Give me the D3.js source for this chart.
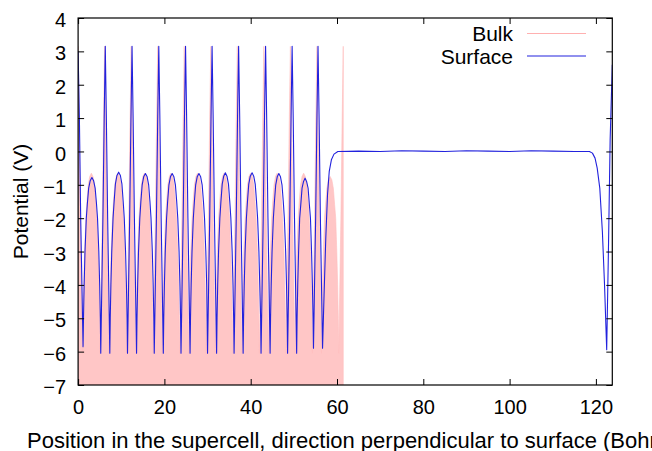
<!DOCTYPE html>
<html>
<head>
<meta charset="utf-8">
<script src="https://cdn.jsdelivr.net/npm/d3@7"></script>
<style>
  body { margin: 0; background: #fff; }
  text { font-family: "Liberation Sans", Arial, Helvetica, sans-serif; fill: #000; }
</style>
</head>
<body>
<script>
// tick values
var xTicks = [0, 20, 40, 60, 80, 100, 120];
var yTicks = [-7, -6, -5, -4, -3, -2, -1, 0, 1, 2, 3, 4];
var seriesNames = ["Bulk", "Surface"];

// Bulk potential, [position (Bohr), V]
var bulk = [
  [0,3.15],[0.25,1.0],[0.55,-2.0],[1.05,-6.05],
  [1.15,-5],[1.3,-4],[1.5,-3],[1.8,-2],[2.05,-1.5],[2.35,-1.0],[2.7,-0.75],[3.07,-0.65],[3.45,-0.75],[3.8,-1.0],[4.1,-1.5],[4.35,-2],[4.65,-3],[4.85,-4],[5.0,-5],
  [5.1,-6.05],[5.6,-2],[5.9,1],[6.15,3.15],[6.4,1],[6.7,-2],[7.2,-6.05],
  [7.3,-5],[7.45,-4],[7.65,-3],[7.95,-2],[8.2,-1.5],[8.5,-1.0],[8.85,-0.75],[9.22,-0.65],[9.6,-0.75],[9.95,-1.0],[10.25,-1.5],[10.5,-2],[10.8,-3],[11.0,-4],[11.15,-5],
  [11.25,-6.05],[11.75,-2],[12.05,1],[12.3,3.15],[12.55,1],[12.85,-2],[13.35,-6.05],
  [13.45,-5],[13.6,-4],[13.8,-3],[14.1,-2],[14.35,-1.5],[14.65,-1.0],[15.0,-0.75],[15.37,-0.65],[15.75,-0.75],[16.1,-1.0],[16.4,-1.5],[16.65,-2],[16.95,-3],[17.15,-4],[17.3,-5],
  [17.4,-6.05],[17.9,-2],[18.2,1],[18.45,3.15],[18.7,1],[19.0,-2],[19.5,-6.05],
  [19.6,-5],[19.75,-4],[19.95,-3],[20.25,-2],[20.5,-1.5],[20.8,-1.0],[21.15,-0.75],[21.52,-0.65],[21.9,-0.75],[22.25,-1.0],[22.55,-1.5],[22.8,-2],[23.1,-3],[23.3,-4],[23.45,-5],
  [23.55,-6.05],[24.05,-2],[24.35,1],[24.6,3.15],[24.85,1],[25.15,-2],[25.65,-6.05],
  [25.75,-5],[25.9,-4],[26.1,-3],[26.4,-2],[26.65,-1.5],[26.95,-1.0],[27.3,-0.75],[27.67,-0.65],[28.05,-0.75],[28.4,-1.0],[28.7,-1.5],[28.95,-2],[29.25,-3],[29.45,-4],[29.6,-5],
  [29.7,-6.05],[30.2,-2],[30.5,1],[30.75,3.15],[31.0,1],[31.3,-2],[31.8,-6.05],
  [31.9,-5],[32.05,-4],[32.25,-3],[32.55,-2],[32.8,-1.5],[33.1,-1.0],[33.45,-0.75],[33.82,-0.65],[34.2,-0.75],[34.55,-1.0],[34.85,-1.5],[35.1,-2],[35.4,-3],[35.6,-4],[35.75,-5],
  [35.85,-6.05],[36.35,-2],[36.65,1],[36.9,3.15],[37.15,1],[37.45,-2],[37.95,-6.05],
  [38.05,-5],[38.2,-4],[38.4,-3],[38.7,-2],[38.95,-1.5],[39.25,-1.0],[39.6,-0.75],[39.97,-0.65],[40.35,-0.75],[40.7,-1.0],[41.0,-1.5],[41.25,-2],[41.55,-3],[41.75,-4],[41.9,-5],
  [42.0,-6.05],[42.5,-2],[42.8,1],[43.05,3.15],[43.3,1],[43.6,-2],[44.1,-6.05],
  [44.2,-5],[44.35,-4],[44.55,-3],[44.85,-2],[45.1,-1.5],[45.4,-1.0],[45.75,-0.75],[46.12,-0.65],[46.5,-0.75],[46.85,-1.0],[47.15,-1.5],[47.4,-2],[47.7,-3],[47.9,-4],[48.05,-5],
  [48.15,-6.05],[48.65,-2],[48.95,1],[49.2,3.15],[49.45,1],[49.75,-2],[50.25,-6.05],
  [50.35,-5],[50.5,-4],[50.7,-3],[51.0,-2],[51.25,-1.5],[51.55,-1.0],[51.9,-0.75],[52.27,-0.65],[52.65,-0.75],[53.0,-1.0],[53.3,-1.5],[53.55,-2],[53.85,-3],[54.05,-4],[54.2,-5],
  [54.3,-6.05],[54.8,-2],[55.1,1],[55.35,3.15],[55.6,1],[55.9,-2],[56.4,-6.05],
  [56.5,-5],[56.65,-4],[56.85,-3],[57.1,-2],[57.35,-1.6],[57.65,-1.1],[58.0,-0.85],[58.4,-0.75],[58.8,-0.85],[59.15,-1.1],[59.45,-1.6],[59.7,-2],[59.95,-3],[60.15,-4],[60.3,-5],
  [60.4,-6.05],[60.9,-2],[61.2,1],[61.45,3.15]
];

// Surface (slab + vacuum) potential, [position (Bohr), V]
var surface = [
  [0,3.0],[0.3,1.0],[0.6,-2.0],[1.15,-5.85],
  [1.25,-5.0],[1.4,-4.0],[1.6,-3.0],[1.9,-2.0],[2.15,-1.55],[2.45,-1.1],[2.8,-0.88],[3.2,-0.78],[3.6,-0.88],[3.95,-1.1],[4.25,-1.55],[4.5,-2.0],[4.8,-3.0],[5.0,-4.0],[5.15,-5.0],
  [5.25,-6.05],[5.75,-2],[6.05,1],[6.3,3.15],[6.55,1],[6.85,-2],[7.35,-6.05],
  [7.45,-5],[7.6,-4],[7.8,-3],[8.1,-2],[8.35,-1.5],[8.65,-0.97],[9.0,-0.72],[9.4,-0.62],[9.8,-0.72],[10.15,-0.97],[10.45,-1.5],[10.7,-2],[11.0,-3],[11.2,-4],[11.35,-5],
  [11.45,-6.05],[11.95,-2],[12.25,1],[12.5,3.15],[12.75,1],[13.05,-2],[13.55,-6.05],
  [13.65,-5],[13.8,-4],[14.0,-3],[14.3,-2],[14.55,-1.5],[14.85,-1.0],[15.2,-0.76],[15.6,-0.66],[16.0,-0.76],[16.35,-1.0],[16.65,-1.5],[16.9,-2],[17.2,-3],[17.4,-4],[17.55,-5],
  [17.65,-6.05],[18.15,-2],[18.45,1],[18.7,3.15],[18.95,1],[19.25,-2],[19.75,-6.05],
  [19.85,-5],[20.0,-4],[20.2,-3],[20.5,-2],[20.75,-1.5],[21.05,-1.0],[21.4,-0.76],[21.8,-0.66],[22.2,-0.76],[22.55,-1.0],[22.85,-1.5],[23.1,-2],[23.4,-3],[23.6,-4],[23.75,-5],
  [23.85,-6.05],[24.35,-2],[24.65,1],[24.9,3.15],[25.15,1],[25.45,-2],[25.95,-6.05],
  [26.05,-5],[26.2,-4],[26.4,-3],[26.7,-2],[26.95,-1.5],[27.25,-1.0],[27.6,-0.76],[28.0,-0.66],[28.4,-0.76],[28.75,-1.0],[29.05,-1.5],[29.3,-2],[29.6,-3],[29.8,-4],[29.9,-5],
  [30.0,-6.05],[30.5,-2],[30.8,1],[31.05,3.15],[31.3,1],[31.6,-2],[32.1,-6.05],
  [32.2,-5],[32.35,-4],[32.55,-3],[32.85,-2],[33.1,-1.5],[33.4,-0.98],[33.75,-0.74],[34.12,-0.64],[34.5,-0.74],[34.85,-0.98],[35.15,-1.5],[35.4,-2],[35.7,-3],[35.9,-4],[36.05,-5],
  [36.15,-6.05],[36.65,-2],[36.95,1],[37.2,3.15],[37.45,1],[37.75,-2],[38.25,-6.05],
  [38.35,-5],[38.5,-4],[38.7,-3],[39.0,-2],[39.25,-1.5],[39.55,-0.98],[39.9,-0.74],[40.32,-0.64],[40.7,-0.74],[41.05,-0.98],[41.35,-1.5],[41.6,-2],[41.9,-3],[42.1,-4],[42.3,-5],
  [42.4,-6.05],[42.9,-2],[43.2,1],[43.45,3.15],[43.7,1],[44.0,-2],[44.5,-6.05],
  [44.6,-5],[44.75,-4],[44.95,-3],[45.25,-2],[45.5,-1.5],[45.8,-1.0],[46.15,-0.76],[46.52,-0.66],[46.9,-0.76],[47.25,-1.0],[47.55,-1.5],[47.8,-2],[48.1,-3],[48.3,-4],[48.45,-5],
  [48.55,-6.05],[49.05,-2],[49.35,1],[49.6,3.15],[49.85,1],[50.15,-2],[50.65,-6.05],
  [50.75,-5],[50.9,-4],[51.1,-3],[51.35,-2],[51.6,-1.6],[51.9,-1.1],[52.25,-0.9],[52.6,-0.8],[52.95,-0.9],[53.3,-1.1],[53.6,-1.6],[53.85,-2],[54.1,-3],[54.3,-4],[54.45,-5],
  [54.55,-5.9],[55.05,-2],[55.35,1],[55.6,3.15],[55.85,1],[56.15,-2],[56.65,-5.9],
  [57.0,-4.3],[57.4,-2.6],[57.8,-1.3],[58.2,-0.6],[58.7,-0.25],[59.3,-0.08],[60.2,0.0],
  [65,0.01],[70,0.0],[75,0.02],[80,0.01],[85,0.0],[90,0.02],[95,0.01],[100,0.0],[105,0.02],[110,0.01],[115,0.0],[118.5,0.0],
  [119.2,-0.05],[119.8,-0.2],[120.3,-0.5],[120.9,-1.1],[121.5,-2.4],[122.0,-4.0],[122.5,-5.94],
  [122.9,-3.0],[123.3,0.35],[123.8,2.6]
];

var W = 652, H = 451;
var svg = d3.select("body").append("svg")
    .attr("width", W).attr("height", H);

var x = d3.scaleLinear().domain([0, 123.8]).range([78.1, 612.3]);
var y = d3.scaleLinear().domain([-7, 4]).range([385, 18]);

svg.append("clipPath").attr("id", "plotclip")
  .append("rect")
    .attr("x", x(0)).attr("y", y(4))
    .attr("width", x(123.8) - x(0)).attr("height", y(-7) - y(4));

var plot = svg.append("g").attr("clip-path", "url(#plotclip)");

// bulk: filled down to the bottom of the frame
var area = d3.area()
    .x(function(d) { return x(d[0]); })
    .y0(y(-7))
    .y1(function(d) { return y(d[1]); });
plot.append("path")
    .datum(bulk)
    .attr("d", area)
    .attr("fill", "#ffc6c6")
    .attr("stroke", "#ffbdbd")
    .attr("stroke-width", 0.6);

var line = d3.line()
    .x(function(d) { return x(d[0]); })
    .y(function(d) { return y(d[1]); });
plot.append("path")
    .datum(surface)
    .attr("d", line)
    .attr("fill", "none")
    .attr("stroke", "#2222dd")
    .attr("stroke-width", 1.1)
    .attr("stroke-linejoin", "round");

// axes, ticks pointing inwards on all four sides
var gx = svg.append("g")
    .attr("transform", "translate(0," + y(-7) + ")")
    .call(d3.axisBottom(x).tickValues(xTicks).tickSizeInner(-6).tickSizeOuter(0));
gx.attr("font-family", null).attr("font-size", 20);
gx.selectAll("text").attr("y", 29).attr("dy", null);

var gt = svg.append("g")
    .attr("transform", "translate(0," + y(4) + ")")
    .call(d3.axisTop(x).tickValues(xTicks).tickSizeInner(-6).tickSizeOuter(0).tickFormat(""));

var gy = svg.append("g")
    .attr("transform", "translate(" + x(0) + ",0)")
    .call(d3.axisLeft(y).tickValues(yTicks).tickSizeInner(-6).tickSizeOuter(0).tickFormat(d3.format("d")));
gy.attr("font-family", null).attr("font-size", 20);
gy.selectAll("text").attr("x", -12).attr("dy", "0.43em");

var gr = svg.append("g")
    .attr("transform", "translate(" + x(123.8) + ",0)")
    .call(d3.axisRight(y).tickValues(yTicks).tickSizeInner(-6).tickSizeOuter(0).tickFormat(""));

[gx, gt, gy, gr].forEach(function(g) {
  g.select(".domain").remove();
  g.selectAll(".tick line").attr("stroke", "#000").attr("stroke-width", 1);
});

// frame
svg.append("rect")
    .attr("x", x(0)).attr("y", y(4))
    .attr("width", x(123.8) - x(0)).attr("height", y(-7) - y(4))
    .attr("fill", "none")
    .attr("stroke", "#000")
    .attr("stroke-width", 1.2);

// axis titles
svg.append("text")
    .attr("x", 27).attr("y", 448)
    .attr("font-size", 22)
    .text("Position in the supercell, direction perpendicular to surface (Bohr)");

svg.append("text")
    .attr("transform", "translate(28," + ((y(4) + y(-7)) / 2) + ") rotate(-90)")
    .attr("text-anchor", "middle")
    .attr("font-size", 21)
    .text("Potential (V)");

// legend
var legendColors = ["#ffb0b0", "#2222dd"];
var legend = svg.append("g");
seriesNames.forEach(function(name, i) {
  var ly = 33.5 + i * 22.5;
  legend.append("text")
      .attr("x", 513).attr("y", ly + 7.5)
      .attr("text-anchor", "end")
      .attr("font-size", 21)
      .text(name);
  legend.append("line")
      .attr("x1", 527).attr("x2", 586)
      .attr("y1", ly).attr("y2", ly)
      .attr("stroke", legendColors[i])
      .attr("stroke-width", i === 0 ? 1 : 1.1);
});
</script>
</body>
</html>
